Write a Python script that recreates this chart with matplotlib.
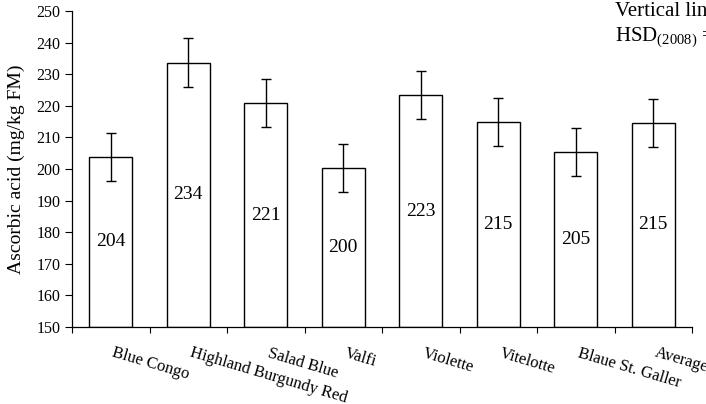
import matplotlib
matplotlib.use("Agg")
import matplotlib.pyplot as plt
import matplotlib.transforms as mtransforms
import numpy as np

categories = ["Blue Congo", "Highland Burgundy Red", "Salad Blue", "Valfi",
              "Violette", "Vitelotte", "Blaue St. Galler", "Average"]
values = [203.8, 233.7, 220.8, 200.2, 223.3, 214.8, 205.3, 214.6]
labels = ["204", "234", "221", "200", "223", "215", "205", "215"]
errors = [7.6, 7.6, 7.6, 7.6, 7.6, 7.6, 7.6, 7.6]
yticks = list(range(150, 251, 10))

plt.rcParams['font.family'] = ['Liberation Serif', 'DejaVu Serif']
plt.rcParams['mathtext.fontset'] = 'custom'
plt.rcParams['mathtext.rm'] = 'Liberation Serif'

fig = plt.figure(figsize=(7.06, 4.04), dpi=100)
ax = fig.add_axes([72/706, 1-327/404, (692-72)/706, (327-11)/404])

x = np.arange(len(categories))
ax.bar(x, np.array(values) - 150, bottom=150, width=0.55, color='white',
       edgecolor='black', linewidth=1.0, zorder=2)
ax.errorbar(x, values, yerr=errors, fmt='none', ecolor='black',
            elinewidth=1.0, capsize=3.5, capthick=1.0, zorder=3)
for xi, v, lab in zip(x, values, labels):
    ax.text(xi, (150 + v) / 2, lab, ha='center', va='center', fontsize=14)

ax.set_xlim(-0.5, len(categories) - 0.5)
ax.set_ylim(150, 250)
ax.set_yticks(yticks)
ax.tick_params(axis='y', labelsize=11.5, length=5, width=0.8, direction='out')

ax.set_xticks(np.arange(len(categories) + 1) - 0.5)
ax.set_xticklabels([])
ax.tick_params(axis='x', length=4, width=0.8, direction='out')

trans = mtransforms.blended_transform_factory(ax.transData, ax.transAxes)
off = mtransforms.ScaledTranslation(3/72, -13/72, fig.dpi_scale_trans)
for xi, cat in zip(x, categories):
    ax.text(xi, 0, cat, transform=trans + off, rotation=-16.5,
            rotation_mode='anchor', ha='left', va='top', fontsize=12)

for s in ['top', 'right']:
    ax.spines[s].set_visible(False)
for s in ['left', 'bottom']:
    ax.spines[s].set_linewidth(0.9)

ax.set_ylabel("Ascorbic acid (mg/kg FM)", fontsize=14, labelpad=8)

fig.text(615/706, 1-12/404, "Vertical lines", fontsize=15, ha='left', va='center')
fig.text(615/706, 1-38/404, r"HSD$_{\mathrm{(2008)}}$ =", fontsize=15,
         ha='left', va='center')

fig.savefig("out.png", dpi=100)
